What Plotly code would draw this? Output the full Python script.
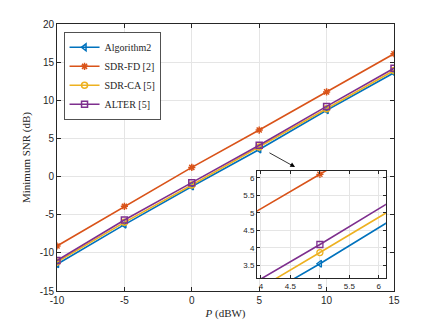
import plotly.graph_objects as go

P = [-10, -5, 0, 5, 10, 15]
alg2 = [-11.5, -6.3, -1.3, 3.55, 8.7, 13.6]
sdr_fd = [-9.1, -3.9, 1.2, 6.1, 11.1, 16.1]
sdr_ca = [-11.2, -6.0, -1.1, 3.87, 8.9, 13.9]
alter = [-11.0, -5.7, -0.8, 4.1, 9.2, 14.2]

xticks = [-10, -5, 0, 5, 10, 15]
yticks = [-15, -10, -5, 0, 5, 10, 15, 20]
inset_xticks = [4, 4.5, 5, 5.5, 6]
inset_yticks = [3.5, 4, 4.5, 5, 5.5, 6]

names = ["Algorithm2", "SDR-FD [2]", "SDR-CA [5]", "ALTER [5]"]
series = [alg2, sdr_fd, sdr_ca, alter]
colors = ["#0072BD", "#D95319", "#EDB120", "#7E2F8E"]
symbols = ["triangle-left-open", "asterisk-open", "circle-open", "square-open"]

fig = go.Figure()
for n, s, c, m in zip(names, series, colors, symbols):
    fig.add_trace(go.Scatter(x=P, y=s, name=n, mode="lines+markers",
                             line=dict(color=c, width=1.6),
                             marker=dict(symbol=m, size=6, color=c, line=dict(color=c, width=1.5))))
for n, s, c, m in zip(names, series, colors, symbols):
    fig.add_trace(go.Scatter(x=P, y=s, name=n, mode="lines+markers", showlegend=False,
                             xaxis="x2", yaxis="y2",
                             line=dict(color=c, width=1.6),
                             marker=dict(symbol=m, size=6, color=c, line=dict(color=c, width=1.3))))

def lab(v):
    return str(v)

tickfont = dict(family="Liberation Sans, Arial", size=10, color="#262626")
axcommon = dict(showgrid=True, gridcolor="#e5e5e5", gridwidth=1, zeroline=False,
                showline=True, linecolor="#262626", linewidth=0.8, mirror="allticks",
                ticks="inside", ticklen=4, tickcolor="#262626", tickfont=tickfont, automargin=False)
insetfont = dict(family="Liberation Sans, Arial", size=8, color="#262626")

fig.update_layout(
    width=436, height=327,
    margin=dict(l=49, r=50, t=16, b=44),
    paper_bgcolor="white", plot_bgcolor="white",
    xaxis=dict(range=[-10, 15], tickvals=xticks, ticktext=[lab(v) for v in xticks], domain=[0, 1],
               title=dict(text="<i>P</i> (dBW)", font=dict(family="Liberation Serif, serif", size=11, color="#262626"), standoff=4),
               **axcommon),
    yaxis=dict(range=[-15, 20], tickvals=yticks, ticktext=[lab(v) for v in yticks], domain=[0, 1],
               title=dict(text="Minimum SNR (dB)", font=dict(family="Liberation Serif, serif", size=11, color="#262626"), standoff=6),
               **axcommon),
    xaxis2=dict(range=[3.93, 6.12], tickvals=inset_xticks, ticktext=[lab(v) for v in inset_xticks],
                domain=[0.593, 0.976], anchor="y2",
                **{**axcommon, "tickfont": insetfont, "ticklen": 3}),
    yaxis2=dict(range=[3.14, 6.19], tickvals=inset_yticks, ticktext=[lab(v) for v in inset_yticks],
                domain=[0.048, 0.449], anchor="x2",
                **{**axcommon, "tickfont": insetfont, "ticklen": 3}),
    legend=dict(x=0.02, y=0.97, xanchor="left", yanchor="top",
                bgcolor="white", bordercolor="#262626", borderwidth=0.8,
                font=dict(family="Liberation Serif, serif", size=10, color="#262626"),
                tracegroupgap=0, itemwidth=30),
    showlegend=True,
)

fig.add_annotation(x=7.66, y=1.25, ax=5.65, ay=3.22, xref="x", yref="y", axref="x", ayref="y",
                   showarrow=True, arrowhead=2, arrowsize=1.2, arrowwidth=0.8, arrowcolor="black", text="")

fig.write_html("out.html")
